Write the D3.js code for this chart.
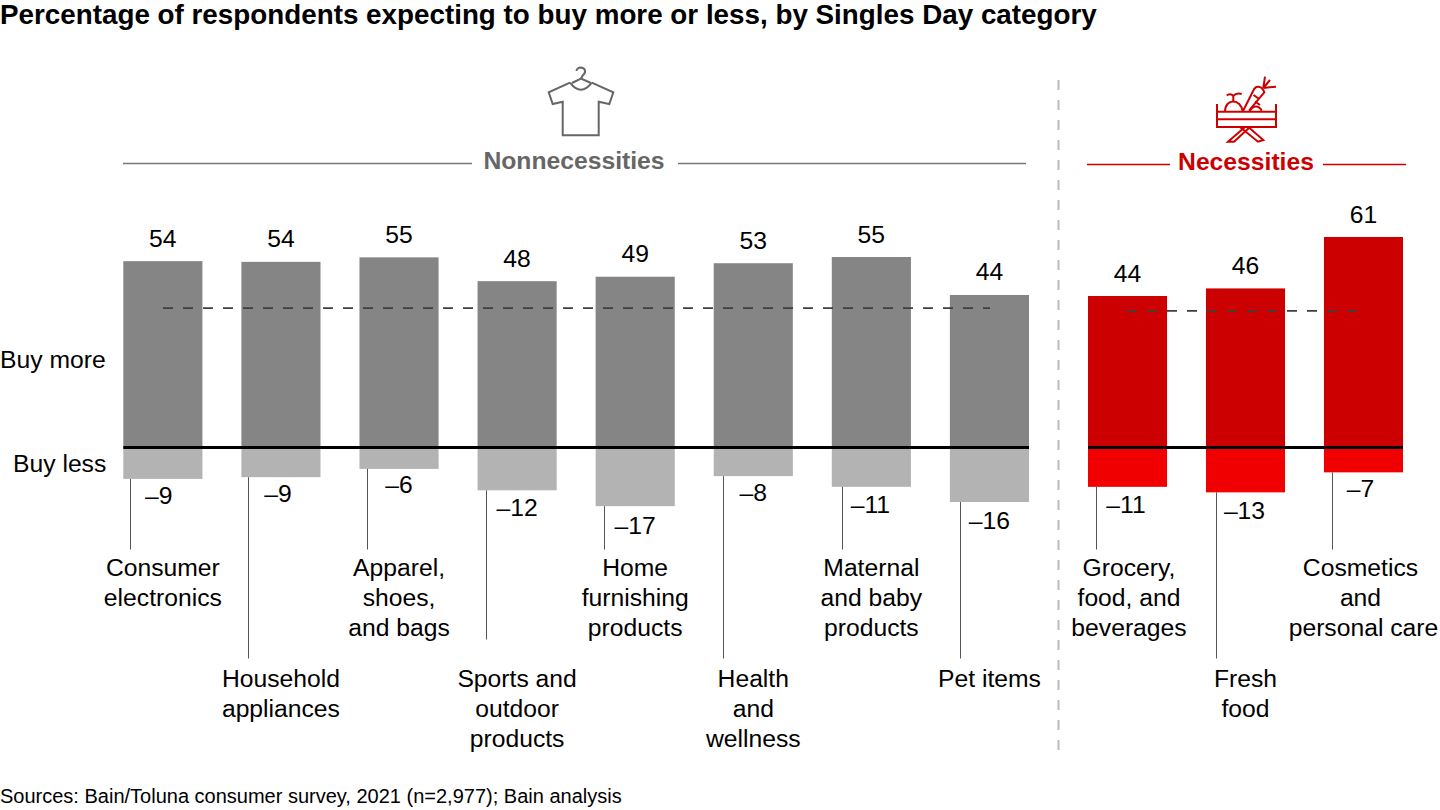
<!DOCTYPE html>
<html><head><meta charset="utf-8">
<script src="https://cdn.jsdelivr.net/npm/d3@7"></script>
<style>html,body{margin:0;padding:0;background:#fff}svg{display:block}text{font-family:"Liberation Sans",Arial,sans-serif}</style>
</head><body><svg id="c" width="1440" height="810"></svg>
<script>
const nonCats = [["Consumer","electronics"],["Household","appliances"],["Apparel,","shoes,","and bags"],["Sports and","outdoor","products"],["Home","furnishing","products"],["Health","and","wellness"],["Maternal","and baby","products"],["Pet items"]];
const necCats = [["Grocery,","food, and","beverages"],["Fresh","food"],["Cosmetics","and","personal care"]];
const nonMore = [54.0,53.8,55.1,48.2,49.49,53.4,55.2,44.2];
const nonLess = [9.1,8.6,6.2,12.4,17.0,8.3,11.4,15.8];
const necMore = [43.9,46.1,61.0];
const necLess = [11.4,13.0,7.2];
const nonAvg = 40.4, necAvg = 39.6;
const sideLabels = ["Buy more","Buy less"];
const title = "Percentage of respondents expecting to buy more or less, by Singles Day category";
const source = "Sources: Bain/Toluna consumer survey, 2021 (n=2,977); Bain analysis";
const FS = 24.7;

const svg = d3.select("#c");
const y = d3.scaleLinear().domain([0,61]).range([447.5,237]);
const txt = (x,yy,s,size,o={}) => svg.append("text").attr("x",x).attr("y",yy).text(s).attr("font-size",size)
  .attr("text-anchor",o.a||"middle").attr("fill",o.f||"#000").attr("font-weight",o.w||"normal");
const fmt = v => String(Math.round(v));
txt(0,24,title,27.8,{a:"start",w:"bold"});
txt(0,803,source,20,{a:"start"});
txt(0,368,sideLabels[0],FS,{a:"start"});
txt(13,472,sideLabels[1],FS,{a:"start"});

function group(cats,more,less,range,colMore,colLess,avg,avgX,leaderOff,negNudge,sportsIdx,lineNudge){
  const x = d3.scaleBand().domain(d3.range(cats.length)).range(range).paddingInner(0.33).paddingOuter(0);
  cats.forEach((c,i)=>{
    const x0=x(i), w=x.bandwidth(), cx=x0+w/2;
    svg.append("rect").attr("x",x0).attr("y",y(more[i])).attr("width",w).attr("height",y(0)-y(more[i])).attr("fill",colMore);
    svg.append("rect").attr("x",x0).attr("y",y(0)).attr("width",w).attr("height",y(0)-y(less[i])).attr("fill",colLess);
    txt(cx,y(more[i])-14.5,fmt(more[i]),FS);
    const lowY=y(-less[i]);
    txt(cx+(negNudge[i]||0),lowY+21.8+0.35*less[i],"\u2013"+fmt(less[i]),FS);
    const low=i%2===0;
    const startY=low?576:687;
    const lx=Math.floor(x0+leaderOff(i))+0.5;
    svg.append("line").attr("x1",lx).attr("x2",lx).attr("y1",lowY).attr("y2",low?549.5:(i===sportsIdx?639.5:658.5)).attr("stroke","#555").attr("stroke-width",1);
    c.forEach((s,j)=>txt(cx+lineNudge(i,j),startY+j*30,s,FS));
  });
  svg.append("line").attr("x1",range[0]).attr("x2",range[1]).attr("y1",y(0)).attr("y2",y(0)).attr("stroke","#000").attr("stroke-width",3);
  svg.append("line").attr("x1",avgX[0]).attr("x2",avgX[1]).attr("y1",y(avg)).attr("y2",y(avg)).attr("stroke","#3f3f3f").attr("stroke-width",1.8).attr("stroke-dasharray","10 10");
}
group(nonCats,nonMore,nonLess,[123.3,1029],"#858585","#b3b3b3",nonAvg,[163,990],i=>7+0.55*i,[-4,-3,0,0,0,0,-1,0],3,()=>0);
group(necCats,necMore,necLess,[1088,1403],"#cc0000","#f00000",necAvg,[1127,1360],i=>[8.3,10.3,8.7][i],[-1.5,-1,-3],-1,
  (i,j)=>i===0?1.5:(i===2&&j<2?-3:0));

svg.append("line").attr("x1",1058.5).attr("x2",1058.5).attr("y1",80).attr("y2",752).attr("stroke","#bbb").attr("stroke-width",2).attr("stroke-dasharray","10 10");
[[123,472],[678,1026]].forEach(r=>svg.append("line").attr("x1",r[0]).attr("x2",r[1]).attr("y1",163.5).attr("y2",163.5).attr("stroke","#777").attr("stroke-width",1.3));
[[1087,1170],[1323,1406]].forEach(r=>svg.append("line").attr("x1",r[0]).attr("x2",r[1]).attr("y1",164.5).attr("y2",164.5).attr("stroke","#cc0000").attr("stroke-width",1.3));
txt(574,169,"Nonnecessities",FS,{w:"bold",f:"#666"});
txt(1246,170,"Necessities",FS,{w:"bold",f:"#cc0000"});

svg.append("g").attr("transform","translate(500,60)").attr("fill","none").attr("stroke","#666").attr("stroke-width",2)
 .selectAll("path").data([
 "M70 22.7L48.7 32.3L52.7 44L62.7 41.7V75.3H98.7V41.7L109.3 44L113.3 32.3L91.7 22.7",
 "M70 22.7Q81 37 91.7 22.7",
 "M72 23L81 18.5L91 23",
 "M81 18.5L83 15C86 13 86 8 81 7.5C78 7.5 76.5 9.5 76.5 11"
 ]).join("path").attr("d",d=>d);
svg.append("g").attr("transform","translate(1180,60)").attr("fill","none").attr("stroke","#cc0000").attr("stroke-width",2)
 .selectAll("path").data([
 "M37 44V67H96V44",
 "M37 51.7H96M37 59.3H96",
 "M65 67L48 81.7L54 81.7L70 67",
 "M60 67L78 81.7L83.3 80L68.3 67",
 "M45 51.7C45 38 61 38 62.7 51.7",
 "M53.3 41.7V35.5M46.7 35.5C49 33.5 52 34 53.3 36M61.7 34C58 33 55 34 53.3 36",
 "M63 51L74 29.3C76 25.5 82 25.5 84.3 32.3L69 50.7",
 "M83.3 28L85 16.7M83.3 28L96 26.7M83.3 28L90 20",
 "M70 50.7C73 45 79 45 81.7 50.7",
 "M73.5 35L78.5 38.5M75 41.5L80 45"
 ]).join("path").attr("d",d=>d);
</script></body></html>
